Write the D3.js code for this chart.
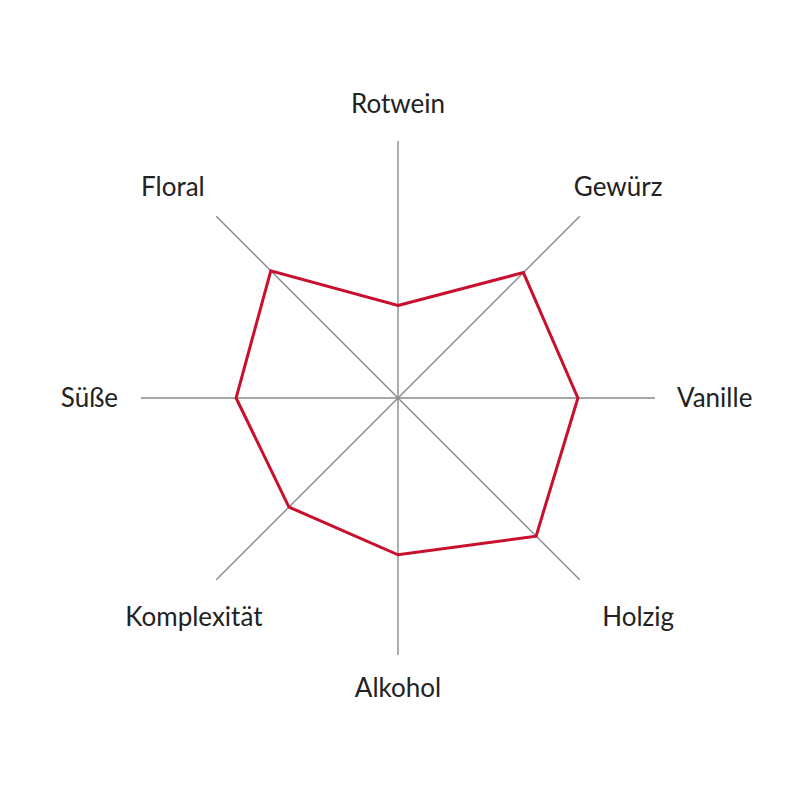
<!DOCTYPE html>
<html><head><meta charset="utf-8">
<script src="https://cdn.jsdelivr.net/npm/d3@7"></script>
<style>body{margin:0;background:#fff}</style>
</head><body>
<svg id="c" width="800" height="800"></svg>
<script>
const categories = ["Rotwein","Gewürz","Vanille","Holzig","Alkohol","Komplexität","Süße","Floral"];
const values = [3.6, 6.9, 7.0, 7.6, 6.1, 6.0, 6.3, 7.0];
const maxValue = 10;

const cx = 398, cy = 398, R = 257;
const svg = d3.select("#c");
const g = svg.append("g").attr("transform", `translate(${cx},${cy})`);
const r = d3.scaleLinear().domain([0, maxValue]).range([0, R]);
const angle = d3.scalePoint().domain(categories).range([0, 2*Math.PI*(categories.length-1)/categories.length]);

g.selectAll("line.axis").data(categories).join("line")
  .attr("x1",0).attr("y1",0)
  .attr("x2", d => r(maxValue)*Math.sin(angle(d)))
  .attr("y2", d => -r(maxValue)*Math.cos(angle(d)))
  .attr("stroke","#8a8a8a").attr("stroke-width",1.4);

const line = d3.lineRadial().angle((d,i)=>angle(categories[i])).radius(d=>r(d)).curve(d3.curveLinearClosed);
g.append("path").datum(values).attr("d", line)
  .attr("fill","none").attr("stroke","#c8102e").attr("stroke-width",3).attr("stroke-linejoin","miter");

const labelR = 300;
const nudge = {"Rotwein":0,"Gewürz":8,"Vanille":0,"Holzig":28,"Alkohol":0,"Komplexität":8,"Süße":0,"Floral":-13};
g.selectAll("text.lab").data(categories).join("text")
  .attr("x", d => {
    const s = Math.sin(angle(d));
    if (Math.abs(s) > 0.99) return s > 0 ? 279 : -280;
    return labelR*s + nudge[d];
  })
  .attr("y", d => {
    const c = Math.cos(angle(d));
    if (Math.abs(c) < 0.01) return 0;
    if (Math.abs(c) > 0.99) return c > 0 ? -294 : 290;
    return c > 0 ? -211 : 219;
  })
  .attr("dy","0.35em")
  .attr("text-anchor", d => {
    const s = Math.sin(angle(d));
    if (s > 0.99) return "start";
    if (s < -0.99) return "end";
    return "middle";
  })
  .attr("font-family","Lato, 'Open Sans', sans-serif")
  .attr("font-size", 26)
  .attr("fill","#222")
  .text(d=>d);
</script>
</body></html>
